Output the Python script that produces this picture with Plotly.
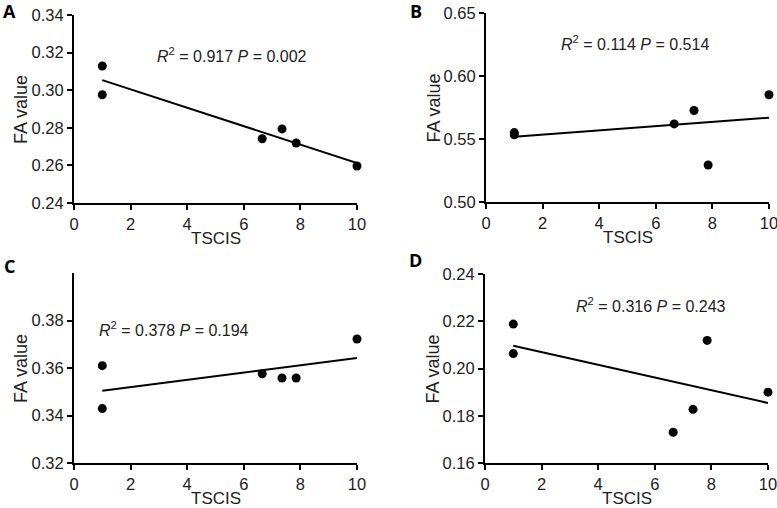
import numpy as np
import plotly.graph_objects as go

# Data
tscis = [1, 1, 6.65, 7.35, 7.85, 10]
fa_a = [0.3129, 0.2976, 0.2742, 0.2794, 0.2719, 0.2597]
fa_b = [0.5551, 0.5533, 0.5620, 0.5726, 0.5294, 0.5851]
fa_c = [0.3610, 0.3429, 0.3576, 0.3558, 0.3558, 0.3722]
fa_d = [0.2188, 0.2063, 0.1730, 0.1827, 0.2119, 0.1900]

panel_labels = ["A", "B", "C", "D"]
stats_text = [
    "<i>R</i><sup>2</sup> = 0.917 <i>P</i> = 0.002",
    "<i>R</i><sup>2</sup> = 0.114 <i>P</i> = 0.514",
    "<i>R</i><sup>2</sup> = 0.378 <i>P</i> = 0.194",
    "<i>R</i><sup>2</sup> = 0.316 <i>P</i> = 0.243",
]
x_title = "TSCIS"
y_title = "FA value"
y_ranges = [[0.24, 0.34], [0.50, 0.65], [0.32, 0.40], [0.16, 0.24]]
y_ticks = [
    [0.24, 0.26, 0.28, 0.30, 0.32, 0.34],
    [0.50, 0.55, 0.60, 0.65],
    [0.32, 0.34, 0.36, 0.38],
    [0.16, 0.18, 0.20, 0.22, 0.24],
]
x_ticks = [0, 2, 4, 6, 8, 10]

W, H = 777, 508
# pixel boxes of each plot area: (left, right, top, bottom)
boxes = [(74, 357, 15, 203), (486, 769, 13, 202), (74, 357, 273, 463), (485, 768, 274, 463)]
# annotation centers (px)
stat_pos = [(232, 55), (635, 43), (174, 329), (651, 305)]
label_pos = [(9, 11), (416, 11), (9, 266), (415, 260)]

TXT = "#222222"
FONT = "Liberation Sans, Arial, sans-serif"


def px_x(v):
    return v / W


def px_y(v):
    return 1 - v / H


fig = go.Figure()
series = [fa_a, fa_b, fa_c, fa_d]
for i, ys in enumerate(series):
    xa = "x" if i == 0 else f"x{i+1}"
    ya = "y" if i == 0 else f"y{i+1}"
    fig.add_trace(go.Scatter(
        x=tscis, y=ys, mode="markers", xaxis=xa, yaxis=ya,
        marker=dict(color="black", size=9), cliponaxis=False, showlegend=False))
    slope, intercept = np.polyfit(tscis, ys, 1)
    xl = [min(tscis), max(tscis)]
    fig.add_trace(go.Scatter(
        x=xl, y=[slope * v + intercept for v in xl], mode="lines", xaxis=xa, yaxis=ya,
        line=dict(color="black", width=2), cliponaxis=False, showlegend=False))

    l, r, t, b = boxes[i]
    axis_common = dict(showline=True, linecolor="black", linewidth=2, ticks="outside",
                       ticklen=5, tickwidth=2, tickcolor="black", showgrid=False,
                       zeroline=False, tickfont=dict(family=FONT, size=16.5, color=TXT),
                       fixedrange=True, automargin=False, ticklabeloverflow="allow")
    fig.layout[("xaxis" if i == 0 else f"xaxis{i+1}")] = dict(
        domain=[px_x(l), px_x(r)], range=[0, 10], tickvals=x_ticks, anchor=ya,
        **axis_common)
    fig.layout[("yaxis" if i == 0 else f"yaxis{i+1}")] = dict(
        domain=[px_y(b), px_y(t)], range=y_ranges[i], tickvals=y_ticks[i],
        tickformat=".2f", anchor=xa, **axis_common)

    # axis titles
    fig.add_annotation(x=px_x((l + r) / 2), y=px_y(b + 35), xref="paper", yref="paper",
                       text=x_title, showarrow=False, borderpad=0,
                       font=dict(family=FONT, size=17, color=TXT),
                       xanchor="center", yanchor="middle")
    fig.add_annotation(x=px_x(l - 53), y=px_y((t + b) / 2 + 1), xref="paper", yref="paper",
                       text=y_title, showarrow=False, textangle=-90,
                       font=dict(family=FONT, size=18, color=TXT),
                       xanchor="center", yanchor="middle")

    sx, sy = stat_pos[i]
    fig.add_annotation(x=px_x(sx), y=px_y(sy), xref="paper", yref="paper",
                       text=stats_text[i], showarrow=False,
                       font=dict(family=FONT, size=16, color=TXT),
                       xanchor="center", yanchor="middle")
    lx, ly = label_pos[i]
    fig.add_annotation(x=px_x(lx), y=px_y(ly), xref="paper", yref="paper",
                       text=f"<b>{panel_labels[i]}</b>", showarrow=False,
                       font=dict(family="Open Sans, sans-serif", size=18, color="black"),
                       xanchor="center", yanchor="middle", borderpad=0)

fig.update_layout(template="none", width=W, height=H, margin=dict(l=0, r=0, t=0, b=0),
                  plot_bgcolor="white", paper_bgcolor="white")
fig.write_html("out.html", config={"displayModeBar": False},
               post_script="document.body.style.margin='0';document.body.style.overflow='hidden';")
